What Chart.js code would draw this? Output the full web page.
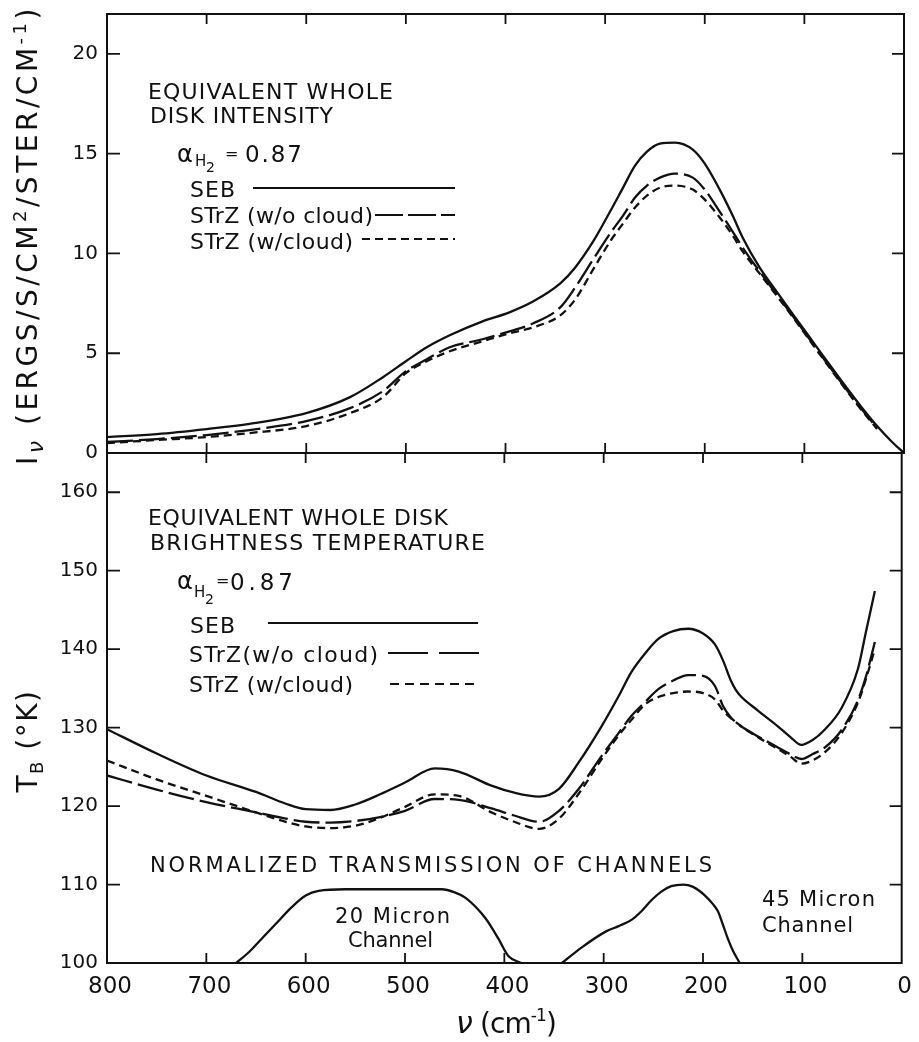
<!DOCTYPE html>
<html>
<head>
<meta charset="utf-8">
<script src="https://cdn.jsdelivr.net/npm/chart.js@4.4.1/dist/chart.umd.min.js"></script>
<style>
  html, body { margin: 0; padding: 0; background: #fff; overflow: hidden; }
  #wrap { position: relative; width: 919px; height: 1042px; }
  #wrap canvas { position: absolute; left: 0; top: 0; }
</style>
</head>
<body>
<div id="wrap">
  <canvas id="intensity" width="919" height="1042"></canvas>
  <canvas id="brightness" width="919" height="1042"></canvas>
</div>
<script>
// wavenumber grid (cm^-1) for the intensity panel
const nu_top = [800, 750, 700, 657, 600, 556, 523, 500, 479, 456, 423, 396, 372, 345, 330, 312, 295, 282, 270, 258, 245, 230, 212, 200, 185, 172, 162, 145, 128, 110, 94, 78, 61, 45, 27];
const nu_top_seb = [...nu_top, 12, 0];

// I_nu, ergs/s/cm2/ster/cm-1
const seb_top = [0.8, 0.95, 1.2, 1.46, 2.0, 2.8, 3.8, 4.6, 5.3, 5.9, 6.6, 7.05, 7.6, 8.5, 9.3, 10.6, 12.1, 13.3, 14.4, 15.1, 15.5, 15.55, 15.2, 14.5, 13.2, 11.9, 10.8, 9.3, 8.1, 6.85, 5.75, 4.65, 3.5, 2.45, 1.35, 0.55, 0];
const wo_cloud_top = [0.55, 0.7, 0.9, 1.15, 1.6, 2.25, 3.1, 4.1, 4.7, 5.3, 5.7, 6.1, 6.5, 7.3, 8.3, 9.7, 11.0, 11.9, 12.8, 13.4, 13.8, 14.0, 13.8, 13.2, 12.1, 11.1, 10.3, 9.1, 7.95, 6.75, 5.65, 4.55, 3.4, 2.35, 1.25];
const w_cloud_top = [0.5, 0.65, 0.8, 1.0, 1.35, 2.0, 2.8, 4.0, 4.6, 5.1, 5.6, 6.0, 6.3, 6.9, 7.7, 9.2, 10.6, 11.5, 12.3, 12.9, 13.3, 13.4, 13.2, 12.7, 11.8, 10.9, 10.1, 9.0, 7.9, 6.7, 5.6, 4.5, 3.35, 2.3, 1.2];

// wavenumber grid for the brightness temperature panel
const nu_bot = [800, 750, 700, 650, 620, 600, 575, 550, 525, 500, 470, 446, 413, 390, 365, 345, 325, 302, 285, 272, 258, 245, 230, 215, 200, 188, 180, 172, 167, 162, 145, 125, 112, 101, 90, 77, 61, 44, 36, 27];

// T_B, deg K
const seb_bot = [129.8, 126.7, 123.9, 121.8, 120.3, 119.6, 119.5, 120.2, 121.5, 123.0, 124.8, 124.4, 122.6, 121.7, 121.2, 122.2, 125.6, 130.2, 134.0, 137.1, 139.5, 141.3, 142.3, 142.6, 142.0, 140.6, 138.6, 136.0, 134.8, 134.0, 132.2, 130.2, 128.8, 127.8, 128.4, 129.8, 132.4, 137.5, 142.2, 147.4];
const wo_cloud_bot = [123.9, 122.1, 120.5, 119.2, 118.4, 118.0, 117.9, 118.1, 118.6, 119.4, 120.9, 120.8, 119.7, 118.8, 118.0, 119.4, 122.2, 126.4, 129.3, 131.5, 133.3, 134.9, 136.0, 136.7, 136.6, 135.3, 132.8, 131.3, 130.7, 130.2, 128.9, 127.5, 126.6, 126.0, 126.6, 127.5, 129.6, 133.5, 136.5, 140.9];
const w_cloud_bot = [125.8, 123.4, 121.3, 119.2, 118.0, 117.4, 117.2, 117.5, 118.5, 119.9, 121.5, 121.3, 119.2, 118.0, 117.1, 118.4, 121.6, 126.0, 129.0, 131.0, 133.0, 133.9, 134.4, 134.6, 134.4, 133.6, 132.2, 131.2, 130.7, 130.2, 128.8, 127.3, 126.3, 125.4, 125.8, 126.9, 129.2, 133.2, 136.2, 140.0];

// channel transmission, plotted on the T_B axis (100 = zero)
const nu_ch20 = [670, 657, 645, 630, 615, 600, 587, 560, 500, 463, 450, 439, 419, 406, 396, 383];
const ch20 = [100, 101.4, 103.0, 105.0, 107.0, 108.6, 109.2, 109.4, 109.4, 109.4, 109.0, 108.3, 105.7, 103.1, 100.9, 100];
const nu_ch45 = [342, 322, 298, 285, 272, 262, 252, 242, 232, 220, 210, 198, 190, 185, 180, 175, 170, 163];
const ch45 = [100, 102.0, 104.0, 104.7, 105.5, 106.6, 108.0, 109.1, 109.8, 110.0, 109.7, 108.6, 107.5, 106.6, 104.9, 103.1, 101.6, 100];

const x_ticks = [0, 100, 200, 300, 400, 500, 600, 700, 800];

const FONT = '"DejaVu Sans", sans-serif';
const INK = '#111';
const LONG_DASH = [26, 6];
const SHORT_DASH = [8, 5];

function pts(nu, vals) {
  return nu.map((x, i) => ({ x, y: vals[i] }));
}

// text stretched to a given width through letter spacing
function put_text(ctx, str, x, y, size, width, italic) {
  ctx.font = `${italic ? 'italic ' : ''}${size}px ${FONT}`;
  ctx.letterSpacing = '0px';
  let sp = 0;
  if (width) sp = (width - ctx.measureText(str).width) / Math.max(str.length - 1, 1);
  ctx.letterSpacing = sp + 'px';
  ctx.fillText(str, x, y);
  ctx.letterSpacing = '0px';
}

// runs of differently sized text (sub/superscripts) laid out to a total length
function run_width(ctx, runs, sp) {
  let w = 0;
  for (const r of runs) {
    ctx.font = `${r.italic ? 'italic ' : ''}${r.size}px ${FONT}`;
    ctx.letterSpacing = sp + 'px';
    w += ctx.measureText(r.t).width;
  }
  return w;
}
function put_runs(ctx, runs, cx, y, length) {
  const n = runs.reduce((s, r) => s + r.t.length, 0);
  const sp = (length - run_width(ctx, runs, 0)) / n;
  let x = cx - run_width(ctx, runs, sp) / 2;
  for (const r of runs) {
    ctx.font = `${r.italic ? 'italic ' : ''}${r.size}px ${FONT}`;
    ctx.letterSpacing = sp + 'px';
    ctx.fillText(r.t, x, y + (r.dy || 0));
    x += ctx.measureText(r.t).width;
  }
  ctx.letterSpacing = '0px';
}

function legend_line(ctx, x0, x1, y, dash) {
  ctx.save();
  ctx.lineWidth = 2.2;
  ctx.strokeStyle = INK;
  ctx.setLineDash(dash);
  ctx.beginPath();
  ctx.moveTo(x0, y);
  ctx.lineTo(x1, y);
  ctx.stroke();
  ctx.restore();
}

// box around the plot area with inward tick marks on all four sides
const frame_plugin = {
  id: 'frame',
  afterDatasetsDraw(chart) {
    const { ctx, chartArea: a, scales: { x, y } } = chart;
    ctx.save();
    ctx.strokeStyle = INK;
    ctx.lineWidth = 2;
    ctx.strokeRect(a.left, a.top, a.right - a.left, a.bottom - a.top);
    ctx.lineWidth = 1.8;
    ctx.beginPath();
    for (const t of x_ticks) {
      if (t === x.min || t === x.max) continue;
      const px = x.getPixelForValue(t);
      ctx.moveTo(px, a.top); ctx.lineTo(px, a.top + 10);
      ctx.moveTo(px, a.bottom); ctx.lineTo(px, a.bottom - 10);
    }
    for (const t of y.ticks) {
      if (t.value === y.min) continue;
      const py = y.getPixelForValue(t.value);
      ctx.moveTo(a.left, py); ctx.lineTo(a.left + 13, py);
      ctx.moveTo(a.right, py); ctx.lineTo(a.right - 12, py);
    }
    ctx.stroke();
    ctx.restore();
  }
};

const top_text = {
  id: 'topText',
  afterDraw(chart) {
    const ctx = chart.ctx;
    ctx.save();
    ctx.fillStyle = INK;
    ctx.textBaseline = 'alphabetic';
    ctx.textAlign = 'left';
    put_text(ctx, 'EQUIVALENT WHOLE', 148, 99, 22, 245);
    put_text(ctx, 'DISK INTENSITY', 150, 123, 22, 183);
    put_text(ctx, 'α', 177, 162, 24);
    put_text(ctx, 'H', 195, 166, 15);
    put_text(ctx, '2', 206, 172, 14);
    put_text(ctx, '=', 225, 159, 16);
    put_text(ctx, '0.87', 245, 162, 23, 57);
    put_text(ctx, 'SEB', 190, 197, 22, 45);
    put_text(ctx, 'STrZ (w/o cloud)', 190, 223, 22, 183);
    put_text(ctx, 'STrZ (w/cloud)', 190, 249, 22, 163);
    legend_line(ctx, 253, 455, 188, []);
    legend_line(ctx, 375, 455, 215, [28, 5]);
    legend_line(ctx, 362, 455, 239, SHORT_DASH);

    // rotated axis title
    ctx.translate(37, 235);
    ctx.rotate(-Math.PI / 2);
    put_runs(ctx, [
      { t: 'I', size: 28 },
      { t: 'ν', size: 22, dy: 6, italic: true },
      { t: ' (ERGS/S/CM', size: 28 },
      { t: '2', size: 18, dy: -11 },
      { t: '/STER/CM', size: 28 },
      { t: '-1', size: 18, dy: -11 },
      { t: ')', size: 28 }
    ], 0, 0, 460);
    ctx.restore();
  }
};

const bottom_text = {
  id: 'bottomText',
  afterDraw(chart) {
    const ctx = chart.ctx;
    ctx.save();
    ctx.fillStyle = INK;
    ctx.textBaseline = 'alphabetic';
    ctx.textAlign = 'left';
    put_text(ctx, 'EQUIVALENT WHOLE DISK', 148, 525, 22, 300);
    put_text(ctx, 'BRIGHTNESS TEMPERATURE', 150, 550, 22, 335);
    put_text(ctx, 'α', 177, 589, 24);
    put_text(ctx, 'H', 194, 597, 15);
    put_text(ctx, '2', 205, 604, 14);
    put_text(ctx, '=', 216, 586, 16);
    put_text(ctx, '0.87', 230, 590, 23, 63);
    put_text(ctx, 'SEB', 190, 633, 22, 45);
    put_text(ctx, 'STrZ(w/o cloud)', 189, 662, 22, 189);
    put_text(ctx, 'STrZ (w/cloud)', 189, 692, 22, 164);
    legend_line(ctx, 268, 478, 623, []);
    legend_line(ctx, 388, 480, 653, [40, 11]);
    legend_line(ctx, 390, 475, 684, [9, 6]);

    put_text(ctx, 'NORMALIZED TRANSMISSION OF CHANNELS', 150, 872, 21, 562);
    put_text(ctx, '20 Micron', 335, 923, 21, 115);
    put_text(ctx, 'Channel', 348, 947, 21, 85);
    put_text(ctx, '45 Micron', 762, 906, 21, 113);
    put_text(ctx, 'Channel', 762, 932, 21, 91);

    put_runs(ctx, [
      { t: 'ν', size: 30, italic: true },
      { t: ' (cm', size: 28 },
      { t: '-1', size: 17, dy: -12 },
      { t: ')', size: 28 }
    ], 506, 1033, 100);

    ctx.translate(37, 741);
    ctx.rotate(-Math.PI / 2);
    put_runs(ctx, [
      { t: 'T', size: 28 },
      { t: 'B', size: 18, dy: 6 },
      { t: ' (°K)', size: 28 }
    ], 0, 0, 103);
    ctx.restore();
  }
};

function y_axis(min, max, step, size) {
  return {
    min, max,
    ticks: { stepSize: step, includeBounds: false, color: INK, padding: 9, font: { family: FONT, size } },
    grid: { display: false, drawTicks: false },
    border: { display: false },
    afterFit(s) {
      s.width = 107;
      s.paddingTop = 0;
      s.paddingBottom = 0;
    }
  };
}

function line_set(data, dash) {
  return { data, borderDash: dash, borderColor: INK, borderWidth: 2.3, pointRadius: 0, cubicInterpolationMode: 'monotone', fill: false };
}

const common = {
  responsive: false,
  animation: false,
  events: [],
  plugins: { legend: { display: false }, tooltip: { enabled: false } }
};

new Chart(document.getElementById('intensity'), {
  type: 'line',
  data: {
    datasets: [
      line_set(pts(nu_top_seb, seb_top), []),
      line_set(pts(nu_top, wo_cloud_top), LONG_DASH),
      line_set(pts(nu_top, w_cloud_top), SHORT_DASH)
    ]
  },
  options: {
    ...common,
    layout: { padding: { top: 14, right: 15, bottom: 589, left: 0 } },
    scales: {
      x: { type: 'linear', reverse: true, min: 0, max: 800, display: false },
      y: y_axis(0, 22, 5, 20)
    }
  },
  plugins: [frame_plugin, top_text]
});

new Chart(document.getElementById('brightness'), {
  type: 'line',
  data: {
    datasets: [
      line_set(pts(nu_bot, seb_bot), []),
      line_set(pts(nu_bot, wo_cloud_bot), LONG_DASH),
      line_set(pts(nu_bot, w_cloud_bot), SHORT_DASH),
      line_set(pts(nu_ch20, ch20), []),
      line_set(pts(nu_ch45, ch45), [])
    ]
  },
  options: {
    ...common,
    layout: { padding: { top: 453, right: 15, bottom: 0, left: 0 } },
    scales: {
      x: {
        type: 'linear', reverse: true, min: 0, max: 800,
        ticks: { stepSize: 100, color: INK, padding: 10, labelOffset: 3, font: { family: FONT, size: 23 } },
        grid: { display: false, drawTicks: false },
        border: { display: false },
        afterFit(s) { s.height = 79; }
      },
      y: y_axis(100, 165, 10, 20)
    }
  },
  plugins: [frame_plugin, bottom_text]
});
</script>
</body>
</html>
